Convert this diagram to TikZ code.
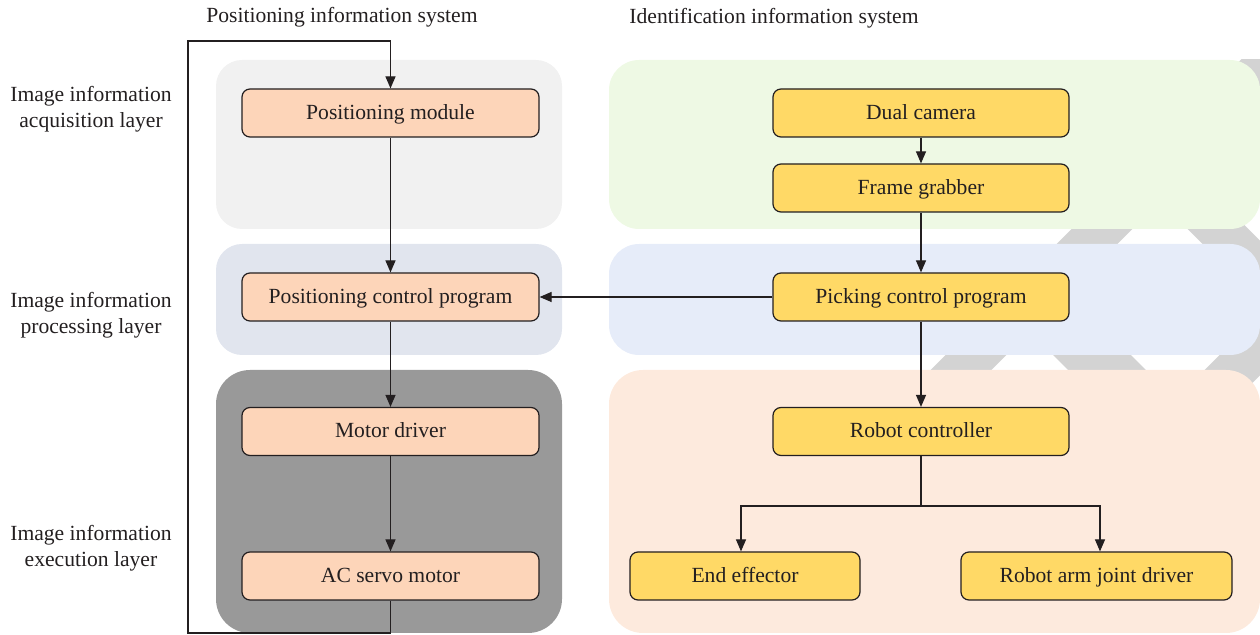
\documentclass[tikz,border=0pt]{standalone}
\usepackage{fontspec}
\setmainfont{Liberation Serif}
\usetikzlibrary{arrows.meta}

\definecolor{inkc}{HTML}{231F20}
\definecolor{bandc}{HTML}{D3D3D3}
\definecolor{acqL}{HTML}{F1F1F1}
\definecolor{procL}{HTML}{E1E5EE}
\definecolor{execL}{HTML}{999999}
\definecolor{acqR}{HTML}{EEF9E4}
\definecolor{procR}{HTML}{E6ECF9}
\definecolor{execR}{HTML}{FDEADD}
\definecolor{posbox}{HTML}{FDD5B9}
\definecolor{idbox}{HTML}{FFD966}

\tikzset{
  txt/.style={text=inkc, font=\fontsize{10.8}{13}\selectfont},
  panel/.style={rounded corners=13pt},
  blockbase/.style={txt, draw=inkc, line width=0.6pt, rounded corners=4pt,
    minimum height=24pt, inner sep=0pt, align=center,
    text height=8.4pt, text depth=2pt},
  posblock/.style={blockbase, fill=posbox, minimum width=148.5pt},
  idblock/.style={blockbase, fill=idbox, minimum width=148pt},
  conn/.style={draw=inkc, line width=0.6pt},
  arr/.style={conn, -{Triangle[length=6pt,width=5pt]}},
  layerlabel/.style={txt, align=center},
  band/.style={draw=bandc, line cap=butt},
}

\begin{document}
\begin{tikzpicture}[x=0.5pt,y=-0.5pt]
\useasboundingbox (0,0) rectangle (1260,635);

% grey lattice behind the identification panels
\begin{scope}
  \clip (0,60) rectangle (1260,633);
  \draw[band, line width=21.5pt] (1320,11) -- (900,431);
  \draw[band, line width=21.5pt] (1160,171) -- (1330,341);
  \draw[band, line width=27.5pt] (1034,297) -- (1171,434);
  \draw[band, line width=21.5pt] (1171,434) -- (1330,275);
\end{scope}

% layer panels
\fill[panel, acqL]  (216,60)  rectangle (562,229);
\fill[panel, procL] (216,244) rectangle (562,355);
\fill[rounded corners=17pt, execL] (216,370) rectangle (562,633);
\fill[rounded corners=15pt, acqR]  (609,60)  rectangle (1260,229);
\fill[rounded corners=15pt, procR] (609,244) rectangle (1260,355);
\fill[rounded corners=17pt, execR] (609,370) rectangle (1260,633);

% column headings
\node[txt] (hpos) at (342,17) {Positioning information system};
\node[txt] (hid)  at (774,18) {Identification information system};

% layer labels
\node[layerlabel] (lacq)  at (91,109) {Image information\\acquisition layer};
\node[layerlabel] (lproc) at (91,315) {Image information\\processing layer};
\node[layerlabel] (lexec) at (91,548) {Image information\\execution layer};

% positioning chain
\node[posblock] (pm)  at (390.5,113)   {Positioning module};
\node[posblock] (pcp) at (390.5,297)   {Positioning control program};
\node[posblock] (md)  at (390.5,431.5) {Motor driver};
\node[posblock] (ac)  at (390.5,576)   {AC servo motor};

% identification chain
\node[idblock] (dc)   at (921,113)   {Dual camera};
\node[idblock] (fg)   at (921,188)   {Frame grabber};
\node[idblock] (pick) at (921,297)   {Picking control program};
\node[idblock] (rc)   at (921,431.5) {Robot controller};
\node[idblock, minimum width=115pt]   (ee)  at (745,576)    {End effector};
\node[idblock, minimum width=135.5pt] (raj) at (1096.5,576) {Robot arm joint driver};

% connectors
\draw[arr] (pm) -- (pcp);
\draw[arr] (pcp) -- (md);
\draw[arr] (md) -- (ac);

\coordinate (loopbot) at (390.5,633);
\coordinate (looptop) at (188,41);
\draw[arr] (ac.south) -- (loopbot) -| (looptop) -| (pm.north);

\draw[arr] (dc) -- (fg);
\draw[arr] (fg) -- (pick);
\draw[arr] (pick) -- (pcp);
\draw[arr] (pick) -- (rc);

\coordinate (split) at (921,506);
\draw[conn] (rc.south) -- (split);
\draw[arr] (split) -| ([xshift=-2pt]ee.north);
\draw[arr] (split) -| ([xshift=1.75pt]raj.north);
\end{tikzpicture}
\end{document}
